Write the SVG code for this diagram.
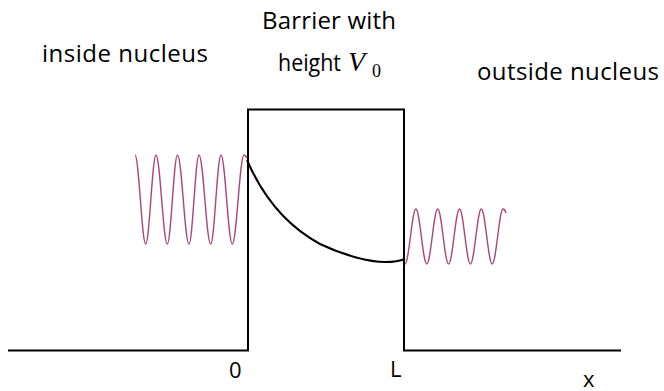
<svg xmlns="http://www.w3.org/2000/svg" width="664" height="391" viewBox="0 0 664 391">
<style>
.lbl{font-family:"Open Sans","Liberation Sans",sans-serif;font-size:22px;fill:#000}
.big{font-size:24px}
.math{font-family:"Liberation Serif","DejaVu Serif",serif;font-style:italic;font-size:28px;fill:#000}
.sub{font-family:"Liberation Serif","DejaVu Serif",serif;font-size:18px;fill:#000}
.line{fill:none;stroke:#000;stroke-width:2}
.wave{fill:none;stroke:#a8457c;stroke-width:1.4}
.curve{fill:none;stroke:#000;stroke-width:2}
</style>
<rect width="664" height="391" fill="#fff"/>
<g id="potential">
<path class="line" d="M8,350.5 H248 V109.5 H404 V350.5 H621"/>
</g>
<g id="wave-inside">
<path class="wave" d="M135,155 C138.9,155 141.8,244 145.7,244 C149.450,244 152.25,155 156,155 C160.1,155 163.2,244 167.3,244 C171,244 173.8,155 177.5,155 C181.7,155 184.8,244 189,244 C192.6,244 195.4,155 199,155 C203.3,155 206.4,244 210.7,244 C214.45,244 217.25,155 221,155 C225.1,155 228.2,244 232.3,244 C236.6,244 239.7,155 244,155 C245.2,155 246,156 247,158"/>
</g>
<g id="wave-barrier">
<path class="curve" d="M247,160 C262,195 285,225 320,244 C345,256 370,262 385,262 C395,262 400,261 405,259"/>
</g>
<g id="wave-outside">
<path class="wave" d="M405,264 C408.97,264 411.93,209 415.9,209 C419.87,209 422.83,264 426.8,264 C430.77,264 433.73,209 437.7,209 C441.67,209 444.63,264 448.6,264 C452.57,264 455.53,209 459.5,209 C463.47,209 466.43,264 470.4,264 C474.37,264 477.33,209 481.3,209 C485.27,209 488.23,264 492.2,264 C496.17,264 499.13,209 503.1,209 C504.3,209 505.2,210.5 506,213"/>
</g>
<g id="labels">
<text class="lbl big" x="42" y="62" textLength="166" lengthAdjust="spacing">inside nucleus</text>
<text class="lbl big" x="262" y="29" textLength="134" lengthAdjust="spacing">Barrier with</text>
<text class="lbl big" x="278" y="71" textLength="63" lengthAdjust="spacingAndGlyphs">height</text>
<text class="math" x="348" y="71">V</text>
<text class="sub" x="372" y="77">0</text>
<text class="lbl big" x="477" y="80" textLength="182" lengthAdjust="spacing">outside nucleus</text>
<text class="lbl" x="229" y="377.5">0</text>
<text class="lbl" x="390" y="377">L</text>
<text class="lbl" x="583" y="386.5" font-size="25">x</text>
</g>
</svg>
